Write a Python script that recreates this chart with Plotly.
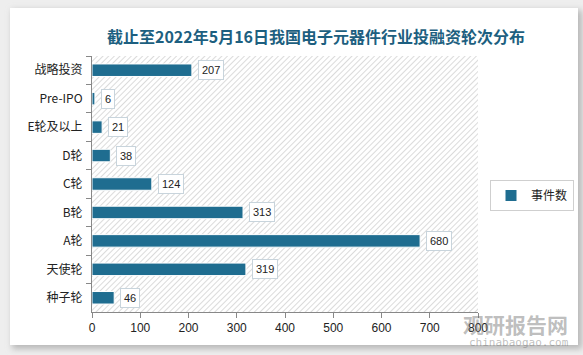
import base64
import plotly.graph_objects as go

categories = ["战略投资", "Pre-IPO", "E轮及以上", "D轮", "C轮", "B轮", "A轮", "天使轮", "种子轮"]
values = [207, 6, 21, 38, 124, 313, 680, 319, 46]
series_name = "事件数"
title_text = "截止至2022年5月16日我国电子元器件行业投融资轮次分布"
x_ticks = [0, 100, 200, 300, 400, 500, 600, 700, 800]

BAR = "#1f6d90"
W, H = 583, 355
L, T, Wp, Hp = 92, 56, 386, 256

# background: gray page, shadowed white card, hatched plot area
svg = (
    f'<svg xmlns="http://www.w3.org/2000/svg" width="{W}" height="{H}">'
    '<defs><pattern id="p" width="4" height="4" patternUnits="userSpaceOnUse" '
    'patternTransform="rotate(45)"><rect width="4" height="4" fill="white"/>'
    '<line x1="0" y1="0" x2="0" y2="4" stroke="#d0d0d0" stroke-width="1.5"/></pattern>'
    '<filter id="s" x="-5%" y="-5%" width="110%" height="110%"><feGaussianBlur stdDeviation="3"/></filter></defs>'
    f'<rect width="{W}" height="{H}" fill="#eeeeee"/>'
    '<rect x="12" y="10" width="570" height="339" fill="#b8b8b8" filter="url(#s)"/>'
    '<rect x="10" y="8" width="568" height="337" fill="white"/>'
    f'<rect x="{L}" y="{T}" width="{Wp}" height="{Hp}" fill="url(#p)"/>'
    '</svg>'
)
src = "data:image/svg+xml;base64," + base64.b64encode(svg.encode()).decode()

fig = go.Figure()
fig.add_trace(go.Bar(
    y=categories, x=values, orientation="h", name=series_name,
    marker=dict(color=BAR, line=dict(color="white", width=1)),
    width=0.44, showlegend=True,
))

for c, v in zip(categories, values):
    fig.add_annotation(
        x=v, y=c, xref="x", yref="y", text=str(v), showarrow=False,
        xanchor="left", xshift=6, font=dict(size=11, color="#222", family="Liberation Sans, Arial"),
        bgcolor="white", bordercolor="#c8d4dc", borderwidth=1, borderpad=3,
    )

def px2x(p): return (p - L) / Wp
def py2y(p): return (T + Hp - p) / Hp

fig.add_layout_image(dict(source=src, xref="paper", yref="paper",
                          x=px2x(0), y=py2y(0), sizex=W / Wp, sizey=H / Hp,
                          sizing="stretch", layer="below", xanchor="left", yanchor="top"))

# watermark
fig.add_annotation(xref="paper", yref="paper", x=px2x(570), y=py2y(324), text="<b>观研报告网</b>",
                   showarrow=False, xanchor="right", yanchor="middle",
                   font=dict(size=21, color="rgba(110,110,110,0.45)", family="Noto Sans CJK SC"))
fig.add_annotation(xref="paper", yref="paper", x=px2x(571), y=py2y(342), text="chinabaogao.com",
                   showarrow=False, xanchor="right", yanchor="middle",
                   font=dict(size=11, color="rgba(110,110,110,0.45)", family="DejaVu Sans Mono"))

fig.update_layout(
    width=W, height=H,
    margin=dict(l=L, r=W - L - Wp, t=T, b=H - T - Hp, autoexpand=False),
    paper_bgcolor="#eeeeee", plot_bgcolor="rgba(0,0,0,0)",
    title=dict(text="<b>" + title_text + "</b>", x=316 / W, xref="container", xanchor="center",
               y=1 - 37 / H, yref="container", yanchor="middle",
               font=dict(size=16, color="#1d5f80", family="Noto Sans CJK SC")),
    font=dict(family="Noto Sans CJK SC", size=12, color="#222"),
    legend=dict(x=490 / W, y=1 - 180 / H, xref="container", yref="container",
                xanchor="left", yanchor="top",
                bordercolor="#cfcfcf", borderwidth=1, bgcolor="white",
                font=dict(size=12, color="#222"), itemwidth=30),
    bargap=0.5,
)
fig.update_xaxes(range=[0, 800], tickvals=x_ticks, showgrid=False, zeroline=False,
                 showline=True, linecolor="#888", ticks="outside", ticklen=5, tickcolor="#888",
                 tickfont=dict(size=12, color="#222", family="Liberation Sans, Arial"))
fig.update_yaxes(autorange="reversed", showgrid=False, showline=True, linecolor="#888",
                 ticks="outside", tickson="boundaries", ticklen=5, tickcolor="#888",
                 ticklabelstandoff=6, tickfont=dict(size=12, color="#222"))

fig.write_html("out.html", config={"displayModeBar": False},
               post_script="document.body.style.margin='0';")
